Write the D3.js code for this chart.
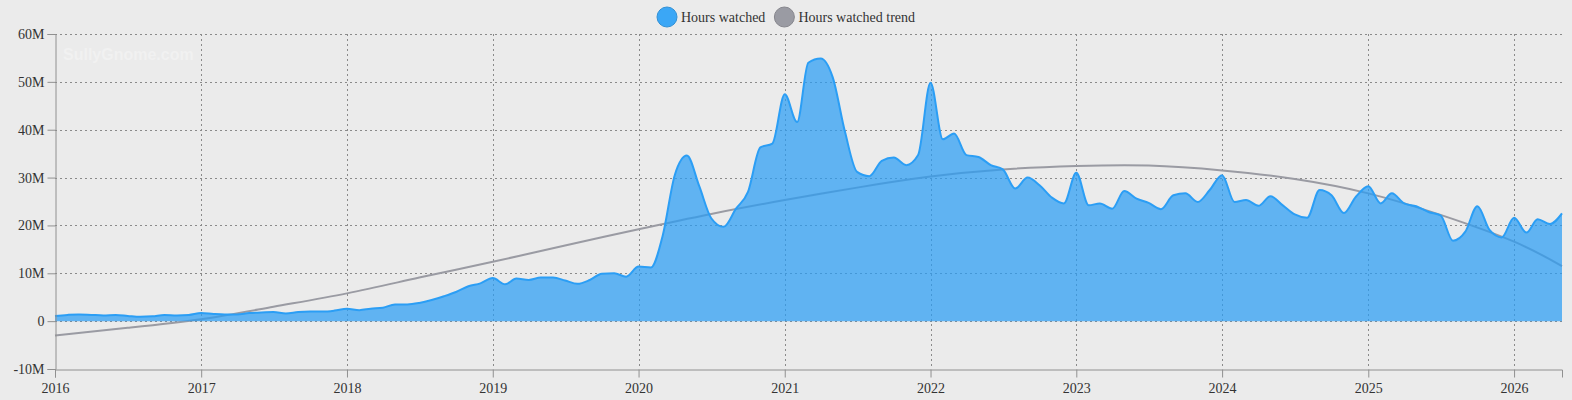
<!DOCTYPE html>
<html>
<head>
<meta charset="utf-8">
<script src="https://cdn.jsdelivr.net/npm/d3@7.9.0/dist/d3.min.js"></script>
<style>
  html, body { margin: 0; padding: 0; background: #ebebeb; }
  svg { display: block; font-family: "Liberation Serif", "Times New Roman", serif; }
  .grid line { stroke: #8a8a8a; stroke-dasharray: 2,3; }
  .axis path, .axis line { stroke: #909090; }
  .axis text { fill: #333; font-size: 14px; font-family: "Liberation Serif", "Times New Roman", serif; }
</style>
</head>
<body>
<svg id="chart" width="1572" height="400"></svg>
<script>
// monthly hours watched, in millions, starting Jan 2016
const firstMonth = new Date(2016, 0, 1);
const hoursWatched = [
  1.1, 1.3, 1.4, 1.3, 1.2, 1.3, 1.1, 0.9, 1.0, 1.3, 1.2, 1.3,        // 2016
  1.7, 1.5, 1.4, 1.4, 1.7, 1.8, 1.9, 1.6, 1.9, 2.0, 2.0, 2.2,        // 2017
  2.6, 2.3, 2.6, 2.8, 3.5, 3.5, 3.8, 4.4, 5.2, 6.1, 7.3, 7.9,        // 2018
  9.0, 7.7, 8.9, 8.6, 9.1, 9.1, 8.5, 7.8, 8.6, 9.9, 10.0, 9.3,       // 2019
  11.4, 11.2, 17.7, 30.6, 34.6, 28.2, 21.5, 19.7, 23.5, 27.0, 36.3, 37.1, // 2020
  47.4, 41.6, 54.0, 54.9, 51.0, 39.5, 31.2, 30.3, 33.5, 34.2, 32.6, 34.7, // 2021
  49.8, 38.0, 39.2, 34.7, 34.3, 32.6, 31.7, 27.7, 30.0, 28.4, 25.8, 24.6, // 2022
  31.0, 24.2, 24.6, 23.5, 27.2, 25.6, 24.7, 23.4, 26.3, 26.7, 24.9, 27.4, // 2023
  30.5, 24.9, 25.3, 24.1, 26.1, 24.2, 22.3, 21.6, 27.4, 26.3, 22.6, 26.0, // 2024
  28.2, 24.6, 26.7, 24.6, 24.0, 22.8, 22.1, 16.8, 18.7, 24.0, 19.0, 17.5, // 2025
  21.6, 18.5, 21.3, 20.3, 22.5                                        // 2026
];

// trend line, read every half year
const trendDates = [
  "2016-01", "2016-07", "2017-01", "2017-07", "2018-01", "2018-07",
  "2019-01", "2019-07", "2020-01", "2020-07", "2021-01", "2021-07",
  "2022-01", "2022-07", "2023-01", "2023-07", "2024-01", "2024-07",
  "2025-01", "2025-07", "2026-01", "2026-05"
];
const trendValues = [
  -3.0, -1.4, 0.4, 3.0, 5.8, 9.1,
  12.4, 15.8, 19.2, 22.4, 25.3, 27.9,
  30.2, 31.7, 32.4, 32.5, 31.5, 29.7,
  26.7, 22.2, 16.6, 11.5
];

const yTicks = [-10, 0, 10, 20, 30, 40, 50, 60];
const seriesNames = ["Hours watched", "Hours watched trend"];
const seriesColors = ["#3ba7f6", "#9a9ba3"];

const parseMonth = d3.timeParse("%Y-%m");
const hours = hoursWatched.map((v, i) => ({ date: d3.timeMonth.offset(firstMonth, i), value: v }));
const trend = trendValues.map((v, i) => ({ date: parseMonth(trendDates[i]), value: v }));

const plotLeft = 55, plotRight = 1562, plotTop = 34, plotBottom = 369;
const svg = d3.select("#chart");

const x = d3.scaleTime()
  .domain([firstMonth, hours[hours.length - 1].date])
  .range([plotLeft, plotRight]);
const y = d3.scaleLinear().domain([-10, 60]).range([plotBottom, plotTop]);

// grid
const grid = svg.append("g").attr("class", "grid");
grid.selectAll(".h").data(yTicks.filter(d => d > -10)).join("line")
  .attr("x1", plotLeft).attr("x2", plotRight)
  .attr("y1", d => Math.round(y(d)) + 0.5).attr("y2", d => Math.round(y(d)) + 0.5);
grid.selectAll(".v").data(x.ticks(d3.timeYear.every(1)).slice(1)).join("line")
  .attr("y1", plotTop).attr("y2", plotBottom)
  .attr("x1", d => Math.round(x(d)) + 0.5).attr("x2", d => Math.round(x(d)) + 0.5);

// watermark
svg.append("text")
  .attr("x", 63).attr("y", 60)
  .attr("font-family", "'Liberation Sans', Arial, sans-serif")
  .attr("font-weight", "bold").attr("font-size", 16)
  .attr("fill", "#f1f1f1")
  .text("SullyGnome.com");

// trend
svg.append("path")
  .datum(trend)
  .attr("fill", "none")
  .attr("stroke", seriesColors[1])
  .attr("stroke-width", 2)
  .attr("d", d3.line().x(d => x(d.date)).y(d => y(d.value)).curve(d3.curveNatural));

// area + line
svg.append("path")
  .datum(hours)
  .attr("fill", "rgba(42,157,244,0.72)")
  .attr("d", d3.area().x(d => x(d.date)).y0(y(0)).y1(d => y(d.value)).curve(d3.curveMonotoneX));

svg.append("path")
  .datum(hours)
  .attr("fill", "none")
  .attr("stroke", "#2b9ef5")
  .attr("stroke-width", 2)
  .attr("d", d3.line().x(d => x(d.date)).y(d => y(d.value)).curve(d3.curveMonotoneX));

// axes
svg.append("g")
  .attr("class", "axis")
  .attr("transform", `translate(${plotLeft + 0.5},0)`)
  .call(d3.axisLeft(y).tickValues(yTicks).tickSize(8).tickPadding(3)
    .tickFormat(d => d === 0 ? "0" : d + "M"));

svg.append("g")
  .attr("class", "axis")
  .attr("transform", `translate(0,${plotBottom + 0.5})`)
  .call(d3.axisBottom(x).ticks(d3.timeYear.every(1)).tickSize(8).tickPadding(6)
    .tickFormat(d3.timeFormat("%Y")));

svg.selectAll(".axis").attr("font-family", null).attr("font-size", null);
svg.selectAll(".axis .domain").attr("stroke", "#909090");

// legend
const legend = svg.append("g").attr("transform", "translate(667,17)");
let lx = 0;
seriesNames.forEach((name, i) => {
  const g = legend.append("g").attr("transform", `translate(${lx},0)`);
  g.append("circle").attr("r", 10)
    .attr("fill", seriesColors[i])
    .attr("stroke", d3.color(seriesColors[i]).darker(0.4))
    .attr("stroke-width", 1);
  const t = g.append("text").attr("x", 14).attr("y", 5)
    .attr("font-size", 14).attr("fill", "#333").text(name);
  lx += 14 + t.node().getComputedTextLength() + 19;
});
</script>
</body>
</html>
